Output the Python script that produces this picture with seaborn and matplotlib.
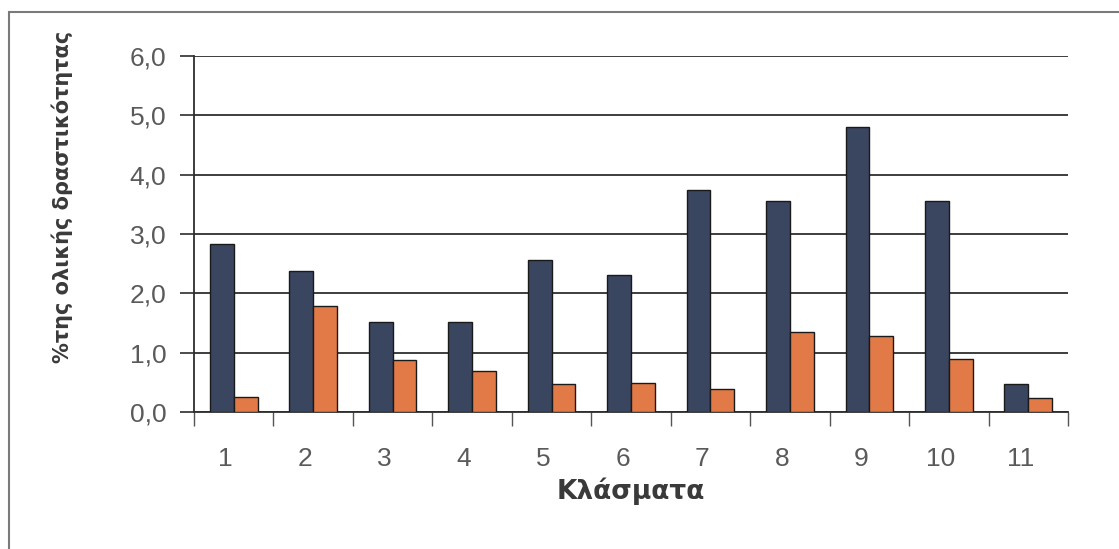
import matplotlib
matplotlib.use("Agg")
import matplotlib.pyplot as plt
import matplotlib.transforms as mtransforms
from matplotlib.patches import Rectangle
from matplotlib.ticker import FixedLocator, FuncFormatter
import numpy as np
import pandas as pd
import seaborn as sns

# Fractions and their share of total activity (%)
fractions = ["1", "2", "3", "4", "5", "6", "7", "8", "9", "10", "11"]
series_dark = [2.83, 2.37, 1.51, 1.51, 2.57, 2.31, 3.74, 3.55, 4.80, 3.55, 0.48]
series_light = [0.25, 1.78, 0.88, 0.69, 0.47, 0.49, 0.38, 1.35, 1.28, 0.90, 0.24]
series_names = ["A", "B"]
y_ticks = [0.0, 1.0, 2.0, 3.0, 4.0, 5.0, 6.0]

df = pd.DataFrame({
    "fraction": fractions * 2,
    "value": series_dark + series_light,
    "series": [series_names[0]] * len(fractions) + [series_names[1]] * len(fractions),
})

sns.set_theme(style="white")
plt.rcParams["font.family"] = ["Liberation Sans", "DejaVu Sans"]

fig = plt.figure(figsize=(11.19, 5.49), dpi=100)
ax = fig.add_axes([194 / 1119, 1 - 412 / 549, (1068 - 194) / 1119, (412 - 56) / 549])

sns.barplot(
    data=df, x="fraction", y="value", hue="series", order=fractions,
    hue_order=series_names, palette=["#3a4560", "#e27a48"], saturation=1,
    width=0.6, edgecolor="#1a1a1a", linewidth=1.0, legend=False, ax=ax, zorder=3,
)

ax.set_xlim(-0.5, len(fractions) - 0.5)
ax.set_ylim(0, 6.0)

# horizontal grid lines
ax.yaxis.set_major_locator(FixedLocator(y_ticks))
ax.yaxis.set_major_formatter(FuncFormatter(lambda v, _: f"{v:.1f}".replace(".", ",")))
ax.grid(axis="y", color="#2e2e2e", linewidth=1.3, zorder=0)
ax.set_axisbelow(True)

for side in ("top", "right"):
    ax.spines[side].set_visible(False)
for side in ("left", "bottom"):
    ax.spines[side].set_color("#2e2e2e")
    ax.spines[side].set_linewidth(1.3)

ax.tick_params(axis="y", which="major", direction="out", length=10, width=1.2,
               color="#2e2e2e", labelsize=19, labelcolor="#5a5a5a", pad=10, left=True)

# boundary ticks between categories, labels centred under each pair
ax.set_xticks(np.arange(-0.5, len(fractions), 1.0), minor=True)
ax.tick_params(axis="x", which="minor", direction="out", length=10, width=1.0,
               color="#555555", bottom=True)
ax.tick_params(axis="x", which="major", length=0, labelsize=19,
               labelcolor="#5a5a5a", pad=25)
offset = mtransforms.ScaledTranslation(-0.08, 0, fig.dpi_scale_trans)
for lbl in ax.get_xticklabels():
    lbl.set_transform(lbl.get_transform() + offset)

ax.set_xlabel("Κλάσματα", fontsize=19, fontweight="bold", color="#3a3a3a",
              family="DejaVu Sans", labelpad=5)
ax.set_ylabel("%της ολικής δραστικότητας", fontsize=15, fontweight="bold",
              color="#3a3a3a", family="DejaVu Sans")
ax.yaxis.set_label_coords(-0.138, 0.604)

# outer chart frame
fig.add_artist(Rectangle((9 / 1119, -0.1), 1.2, 1 - 12 / 549 + 0.1,
                         transform=fig.transFigure, fill=False,
                         edgecolor="#7a7a7a", linewidth=1.5))

fig.savefig("out.png", dpi=100, facecolor="white")
